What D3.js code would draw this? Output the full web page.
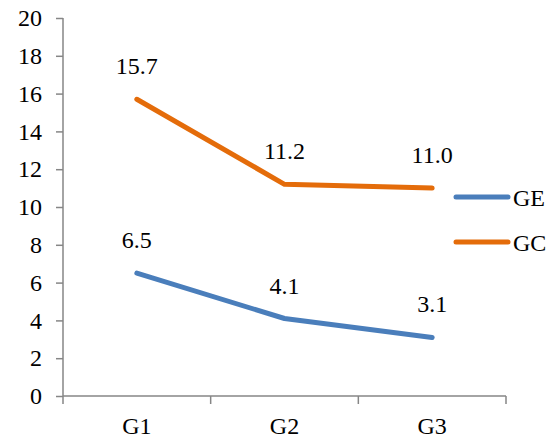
<!DOCTYPE html>
<html>
<head>
<meta charset="utf-8">
<script src="https://cdn.jsdelivr.net/npm/d3@7"></script>
<style>
  html, body { margin: 0; padding: 0; background: #fff; }
  svg text { font-family: "Liberation Serif", Times, "Times New Roman", serif; fill: #000; }
</style>
</head>
<body>
<svg id="chart" width="555" height="441"></svg>
<script>
const categories = ["G1", "G2", "G3"];
const seriesNames = ["GE", "GC"];
const geValues = [6.5, 4.1, 3.1];
const gcValues = [15.7, 11.2, 11.0];
const yTicks = [0, 2, 4, 6, 8, 10, 12, 14, 16, 18, 20];
const seriesColors = ["#4A7EBB", "#E46C0A"];

const series = [
  { name: seriesNames[0], values: geValues, color: seriesColors[0] },
  { name: seriesNames[1], values: gcValues, color: seriesColors[1] }
];

const svg = d3.select("#chart");
const plot = { left: 63, right: 506, top: 18, bottom: 396 };
const fontSize = 24;
const serif = '"Liberation Serif", Times, "Times New Roman", serif';

const x = d3.scaleBand().domain(categories).range([plot.left, plot.right]);
const y = d3.scaleLinear().domain([0, 20]).range([plot.bottom, plot.top]);

const axisColor = "#868686";

// Y axis
const yAxis = svg.append("g")
  .attr("transform", `translate(${plot.left},0)`)
  .call(d3.axisLeft(y).tickValues(yTicks).tickSize(7).tickPadding(14).tickFormat(d3.format("d")));
yAxis.attr("font-family", null).attr("font-size", null);
yAxis.selectAll("path, line").attr("stroke", axisColor).attr("stroke-width", 1.5);
yAxis.selectAll("text").style("font-size", fontSize + "px");
yAxis.select(".domain").attr("d", `M0,${plot.top}V${plot.bottom}`);

// X axis with ticks at category boundaries
const xAxis = svg.append("g").attr("transform", `translate(0,${plot.bottom})`);
xAxis.append("line").attr("x1", plot.left).attr("x2", plot.right).attr("y1", 0).attr("y2", 0)
  .attr("stroke", axisColor).attr("stroke-width", 1.5);
const boundaries = categories.map(c => x(c)).concat([plot.right]);
xAxis.selectAll("line.tick").data(boundaries).join("line")
  .attr("class", "tick")
  .attr("x1", d => d).attr("x2", d => d).attr("y1", 0).attr("y2", 8)
  .attr("stroke", axisColor).attr("stroke-width", 1.5);
xAxis.selectAll("text").data(categories).join("text")
  .attr("x", d => x(d) + x.bandwidth() / 2)
  .attr("y", 38)
  .attr("text-anchor", "middle")
  .style("font-size", fontSize + "px")
  .text(d => d);

// Lines
const line = d3.line()
  .x((d, i) => x(categories[i]) + x.bandwidth() / 2)
  .y(d => y(d));

series.forEach(s => {
  svg.append("path")
    .datum(s.values)
    .attr("d", line)
    .attr("fill", "none")
    .attr("stroke", s.color)
    .attr("stroke-width", 5)
    .attr("stroke-linecap", "round")
    .attr("stroke-linejoin", "round");

  svg.selectAll(null).data(s.values).join("text")
    .attr("x", (d, i) => x(categories[i]) + x.bandwidth() / 2)
    .attr("y", d => y(d) - 25)
    .attr("text-anchor", "middle")
    .style("font-size", fontSize + "px")
    .text(d => d.toFixed(1));
});

// Legend
const legend = svg.append("g");
series.forEach((s, i) => {
  const ly = 197 + i * 45;
  legend.append("line")
    .attr("x1", 456).attr("x2", 508).attr("y1", ly).attr("y2", ly)
    .attr("stroke", s.color).attr("stroke-width", 5).attr("stroke-linecap", "round");
  legend.append("text")
    .attr("x", 513).attr("y", ly + 9)
    .style("font-size", fontSize + "px")
    .text(s.name);
});

svg.selectAll("text").style("font-family", serif);
</script>
</body>
</html>
